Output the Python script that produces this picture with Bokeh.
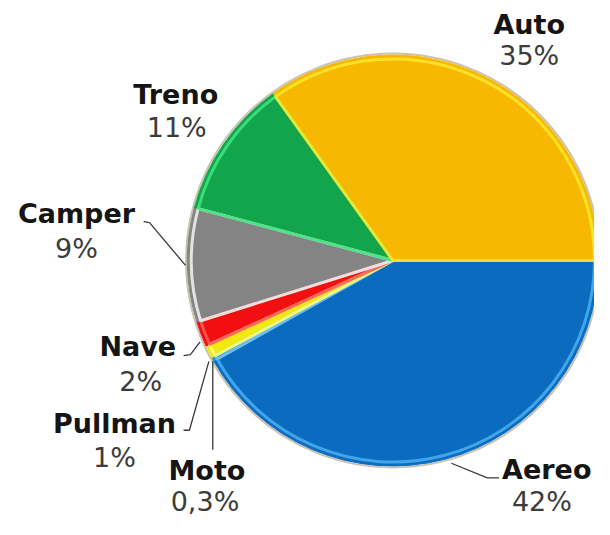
import numpy as np
from bokeh.plotting import figure
from bokeh.models import Range1d, ColumnDataSource
from bokeh.core.properties import value
from bokeh.embed import file_html
from bokeh.resources import INLINE

# ---- data ----
categories = ["Aereo", "Moto", "Pullman", "Nave", "Camper", "Treno", "Auto"]
shares = [42, 0.3, 1, 2, 9, 11, 35]
pct_labels = ["42%", "0,3%", "1%", "2%", "9%", "11%", "35%"]

# ---- styles ----
fills = ["#0B6BBF", "#2E8FDA", "#F3E912", "#F20F0F", "#848484", "#12A54B", "#F6B800"]
highlights = ["#47ACEE", "#6FC0F2", "#FFFF70", "#FF5A5A", "#EDEDED", "#3FE27E", "#FFE62A"]

# layout (reference pixel space, y downwards)
W, H = 610, 535
CX, CY, R = 403, 268, 211
label_pos = {
    "Aereo": (561, 483, 556, 516),
    "Moto": (212, 484, 210, 516),
    "Pullman": (117, 436, 117, 471),
    "Nave": (141, 357, 144, 393),
    "Camper": (78, 220, 78, 256),
    "Treno": (180, 97, 181, 131),
    "Auto": (543, 25, 543, 57),
}
leaders = {
    "Camper": [(147, 228), (153, 229), (190, 273)],
    "Nave": [(188, 366), (195, 365), (205, 352)],
    "Pullman": [(188, 443), (194, 443), (214, 372)],
    "Moto": [(218, 372), (218, 463)],
    "Aereo": [(463, 477), (500, 492), (512, 492)],
}

def Y(y):
    return H - y

total = float(sum(shares))
fr = np.array(shares) / total
cum = np.concatenate([[0], np.cumsum(fr)])
# clockwise from 3 o'clock
start = [-2 * np.pi * cum[i + 1] for i in range(len(fr))]
end = [-2 * np.pi * cum[i] for i in range(len(fr))]

src = ColumnDataSource(dict(cat=categories, start=start, end=end, fill=fills, hl=highlights,
                            x=[CX] * len(fr), y=[Y(CY)] * len(fr)))

p = figure(width=594, height=519, x_range=Range1d(0, W), y_range=Range1d(0, H),
           output_backend="svg", toolbar_location=None, min_border=0,
           x_axis_location=None, y_axis_location=None, outline_line_color=None,
           background_fill_color="white", border_fill_color="white")
p.grid.visible = False

# outer soft rim
p.circle(x=[CX], y=[Y(CY)], radius=R + 1.5, fill_color=None, line_color="#9C9070",
         line_alpha=0.55, line_width=2)
# slices
p.wedge(x="x", y="y", radius=R, start_angle="start", end_angle="end",
        fill_color="fill", line_color="fill", line_width=1, source=src)
# bevel highlights
p.wedge(x="x", y="y", radius=R - 4, start_angle="start", end_angle="end",
        fill_color=None, line_color="hl", line_width=3, line_alpha=0.9, source=src)

# leader lines
for cat, pts in leaders.items():
    p.line(x=[q[0] for q in pts], y=[Y(q[1]) for q in pts], line_color="#3A3A3A", line_width=1.3)

# labels
for cat, pct in zip(categories, pct_labels):
    nx, ny, px, py = label_pos[cat]
    p.text(x=[nx], y=[Y(ny)], text=[cat], text_font=value("DejaVu Sans"),
           text_font_style="bold", text_font_size="27px", text_color="#151515",
           text_align="center", text_baseline="middle")
    p.text(x=[px], y=[Y(py)], text=[pct], text_font=value("DejaVu Sans"),
           text_font_size="27px", text_color="#3C3C3C",
           text_align="center", text_baseline="middle")

open("out.html", "w").write(file_html(p, INLINE))
